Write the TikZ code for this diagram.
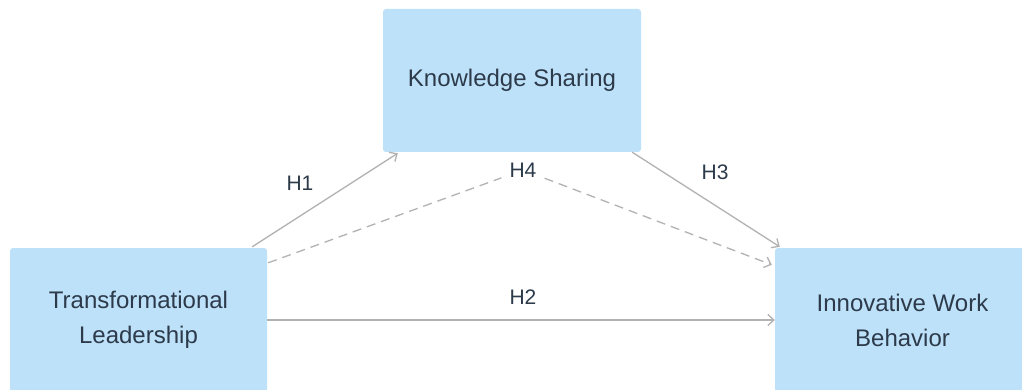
\documentclass[tikz,border=0pt]{standalone}
\usepackage{fontspec}
\setmainfont{Liberation Sans}
\usetikzlibrary{arrows.meta,calc}
\definecolor{boxfill}{HTML}{BEE1FA}
\definecolor{txt}{HTML}{2C3A4A}
\definecolor{linec}{HTML}{B2B2B2}
\tikzset{
  varbox/.style={fill=boxfill, draw=none, rounded corners=3pt, text=txt, align=center,
    font=\fontsize{24}{35}\selectfont, inner sep=0pt},
  hlabel/.style={text=txt, font=\fontsize{21}{25}\selectfont, inner sep=6pt},
  link/.style={draw=linec, line width=1.3pt, -{Straight Barb[length=6pt,width=11pt]}},
  dlink/.style={link, dash pattern=on 9pt off 6pt}
}
\begin{document}
\begin{tikzpicture}[x=1pt,y=-1pt]
\clip (0,0) rectangle (1022,390);
\fill[white] (0,0) rectangle (1022,390);
\node[varbox, minimum width=257pt, minimum height=144pt] (tl) at (138.5,320) {Transformational\\Leadership};
\node[varbox, minimum width=258pt, minimum height=143pt] (ks) at (512,80.5) {Knowledge Sharing};
\node[varbox, minimum width=255pt, minimum height=144pt] (iwb) at (902.5,320) {Innovative Work\\Behavior};
\node[hlabel] (h1) at (300,183) {H1};
\node[hlabel] (h2) at (523,297) {H2};
\node[hlabel] (h3) at (715,172) {H3};
\node[hlabel, inner sep=8pt] (h4) at (523,170) {H4};
\coordinate (a1) at ($(tl.north east)+(-15,-1)$);
\coordinate (b1) at ($(ks.south west)+(15,1)$);
\coordinate (a3) at ($(ks.south east)+(-9,0)$);
\coordinate (b3) at ($(iwb.north west)+(5,-1)$);
\coordinate (a4) at ($(tl.north east)+(1,15)$);
\coordinate (b4) at ($(iwb.north west)+(-3,17)$);
\draw[link] (a1) -- (b1);
\draw[link] (a3) -- (b3);
\draw[link] (tl.east) -- (iwb.west);
\draw[draw=linec, line width=1.3pt, dash pattern=on 9pt off 6pt] (a4) -- (h4);
\draw[dlink] (h4) -- (b4);
\end{tikzpicture}
\end{document}
